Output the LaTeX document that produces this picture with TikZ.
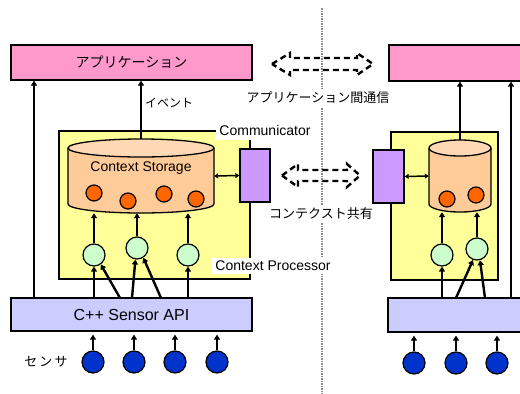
\documentclass[tikz,border=0pt]{standalone}
\usepackage{fontspec}
\setmainfont{Liberation Sans}
\newfontfamily\jp{Noto Sans CJK JP}
\usetikzlibrary{arrows.meta}
\definecolor{apppink}{HTML}{FF99CC}
\definecolor{procyel}{HTML}{FFFF99}
\definecolor{cylbody}{HTML}{FFCC99}
\definecolor{cyltop}{HTML}{FFD9B5}
\definecolor{dataor}{HTML}{FF6600}
\definecolor{procgr}{HTML}{CCFFCC}
\definecolor{commpu}{HTML}{CC99FF}
\definecolor{apibl}{HTML}{CCCCFF}
\definecolor{sensbl}{HTML}{0033CC}
\definecolor{sepgray}{HTML}{8C8C8C}
\tikzset{
  boxn/.style={draw, line width=1.3pt, inner sep=0pt},
  arr/.style={line width=2.4pt, -{Triangle[length=5pt,width=6pt]}},
  darr/.style={line width=1.5pt, {Triangle[length=4pt,width=5pt]}-{Triangle[length=4pt,width=5pt]}},
  dotc/.style={circle, draw, line width=1.2pt, inner sep=0pt, minimum size=16pt, fill=dataor},
  procc/.style={circle, draw, line width=1.2pt, inner sep=0pt, minimum size=22pt, fill=procgr},
  sensc/.style={circle, draw, line width=1.2pt, inner sep=0pt, minimum size=22pt, fill=sensbl},
  lbl/.style={fill=white, inner sep=3pt},
  blockarr/.style={line width=2.4pt, dash pattern=on 6pt off 4pt},
  cylline/.style={line width=1.3pt},
}
\begin{document}
\begin{tikzpicture}[x=1pt,y=-1pt]
\useasboundingbox (0,0) rectangle (520,394);
\clip (0,0) rectangle (520,394);
\fill[white] (0,0) rectangle (520,394);

% separator
\draw[sepgray, line width=2.4pt, dash pattern=on 1.5pt off 1pt] (322,8) -- (322,394);

% application boxes
\node[boxn, fill=apppink, minimum width=241pt, minimum height=35pt] (appL) at (131.5,62.5) {\jp\fontsize{14pt}{16pt}\selectfont アプリケーション};
\node[boxn, fill=apppink, minimum width=141pt, minimum height=36pt] (appR) at (459.5,63) {};

% processor boxes
\node[boxn, fill=procyel, minimum width=191pt, minimum height=148pt] (yelL) at (154.5,205) {};
\node[boxn, fill=procyel, minimum width=107pt, minimum height=148pt] (yelR) at (444.5,206) {};

% API boxes
\node[boxn, fill=apibl, minimum width=241pt, minimum height=33pt] (apiL) at (131.5,314.5) {\fontsize{16pt}{18pt}\selectfont C++ Sensor API};
\node[boxn, fill=apibl, minimum width=142pt, minimum height=34pt] (apiR) at (459,315) {};

% communicators
\node[boxn, fill=commpu, minimum width=30pt, minimum height=53pt] (pL) at (255,175.5) {};
\node[boxn, fill=commpu, minimum width=31pt, minimum height=53pt] (pR) at (388.5,176.5) {};

% left cylinder
\fill[cylbody] (68,148) -- (68,204) arc[start angle=180,end angle=360,x radius=73pt,y radius=9pt] -- (214,148) -- cycle;
\draw[cylline] (68,148) -- (68,204) arc[start angle=180,end angle=360,x radius=73pt,y radius=9pt] -- (214,148);
\filldraw[cylline, fill=cyltop] (141,148) ellipse[x radius=73pt, y radius=9pt];
\node[inner sep=0pt, minimum width=146pt, minimum height=74pt] (storL) at (141,176) {};
\node (stlabel) at (141,168) {\fontsize{14pt}{16pt}\selectfont Context Storage};

% right cylinder
\fill[cylbody] (429,148) -- (429,204) arc[start angle=180,end angle=360,x radius=31pt,y radius=8pt] -- (491,148) -- cycle;
\draw[cylline] (429,148) -- (429,204) arc[start angle=180,end angle=360,x radius=31pt,y radius=8pt] -- (491,148);
\filldraw[cylline, fill=cyltop] (460,148) ellipse[x radius=31pt, y radius=8pt];
\node[inner sep=0pt, minimum width=62pt, minimum height=72pt] (storR) at (460,176) {};

% data dots
\node[dotc] (d1) at (94,193) {};
\node[dotc] (d2) at (128,201) {};
\node[dotc] (d3) at (164,194) {};
\node[dotc] (d4) at (196,199) {};
\node[dotc] (d5) at (447,199) {};
\node[dotc] (d6) at (476,195) {};

% processors
\node[procc] (g1) at (94,255) {};
\node[procc] (g2) at (137,248) {};
\node[procc] (g3) at (188,255) {};
\node[procc] (g4) at (442,255) {};
\node[procc] (g5) at (477,249) {};

% sensors
\node[sensc] (s1) at (93,362) {};
\node[sensc] (s2) at (134,362) {};
\node[sensc] (s3) at (175,362) {};
\node[sensc] (s4) at (217,362) {};
\node[sensc] (s5) at (414,363) {};
\node[sensc] (s6) at (456,363) {};
\node[sensc] (s7) at (497,363) {};

% coordinates on API tops
\coordinate (aL0) at (34,298);
\coordinate (aL1) at (94,298);
\coordinate (aL2) at (120,298);
\coordinate (aL3) at (132,298);
\coordinate (aL4) at (161,298);
\coordinate (aL5) at (188,298);
\coordinate (aR1) at (442,298);
\coordinate (aR2) at (456,298);
\coordinate (aR3) at (485,298);
\coordinate (aR4) at (511,298);

% arrows API -> application
\draw[arr] (aL0) -- (aL0 |- appL.south);
\draw[arr] (aR4) -- (aR4 |- appR.south);
% event arrows
\draw[arr] (storL.north) -- (storL.north |- appL.south);
\draw[arr] (storR.north) -- (storR.north |- appR.south);

% API -> processors
\draw[arr] (aL1) -- (g1.south);
\draw[arr] (aL2) -- (g1.-54);
\draw[arr] (aL3) -- (g2.-98);
\draw[arr] (aL4) -- (g2.-57);
\draw[arr] (aL5) -- (g3.south);
\draw[arr] (aR1) -- (g4.south);
\draw[arr] (aR2) -- (g5.-110);
\draw[arr] (aR3) -- (g5.-75);

% processors -> storage
\draw[arr] (g1.north) -- (g1 |- storL.south);
\draw[arr] (g2.north) -- (g2 |- storL.south);
\draw[arr] (g3.north) -- (g3 |- storL.south);
\draw[arr] (g4.north) -- (g4 |- storR.south);
\draw[arr] (g5.north) -- (g5 |- storR.south);

% sensors -> API
\foreach \s in {s1,s2,s3,s4}{\draw[arr, shorten >=3pt] (\s.north) -- (\s |- apiL.south);}
\foreach \s in {s5,s6,s7}{\draw[arr, shorten >=3pt] (\s.north) -- (\s |- apiR.south);}

% storage <-> communicator
\draw[darr] (storL.east) -- (pL.west);
\draw[darr] (pR.east) -- (storR.west);

% dashed block arrows
\draw[blockarr] (272,64) -- (290,53) -- (290,58) -- (357,58) -- (357,53) -- (373,64) -- (357,75) -- (357,70) -- (290,70) -- (290,75) -- cycle;
\draw[blockarr] (282,175.5) -- (298,164) -- (298,170) -- (347,170) -- (347,164) -- (360,175.5) -- (347,187) -- (347,181) -- (298,181) -- (298,187) -- cycle;

% labels
\node[anchor=west, inner sep=1pt] (evt) at (144,103) {\jp\fontsize{12pt}{14pt}\selectfont イベント};
\node[lbl] (aplbl) at (318,98) {\jp\fontsize{13pt}{15pt}\selectfont アプリケーション間通信};
\node[lbl, inner ysep=5pt] (comlbl) at (265,130) {\fontsize{14pt}{16pt}\selectfont Communicator};
\node[lbl] (shlbl) at (321,214) {\jp\fontsize{13pt}{15pt}\selectfont コンテクスト共有};
\node[lbl, inner xsep=4pt] (cplbl) at (273,266) {\fontsize{14pt}{16pt}\selectfont Context Processor};
\node (senslbl) at (46,362) {\jp\fontsize{13pt}{15pt}\selectfont セ\,ン\,サ};
\end{tikzpicture}
\end{document}
